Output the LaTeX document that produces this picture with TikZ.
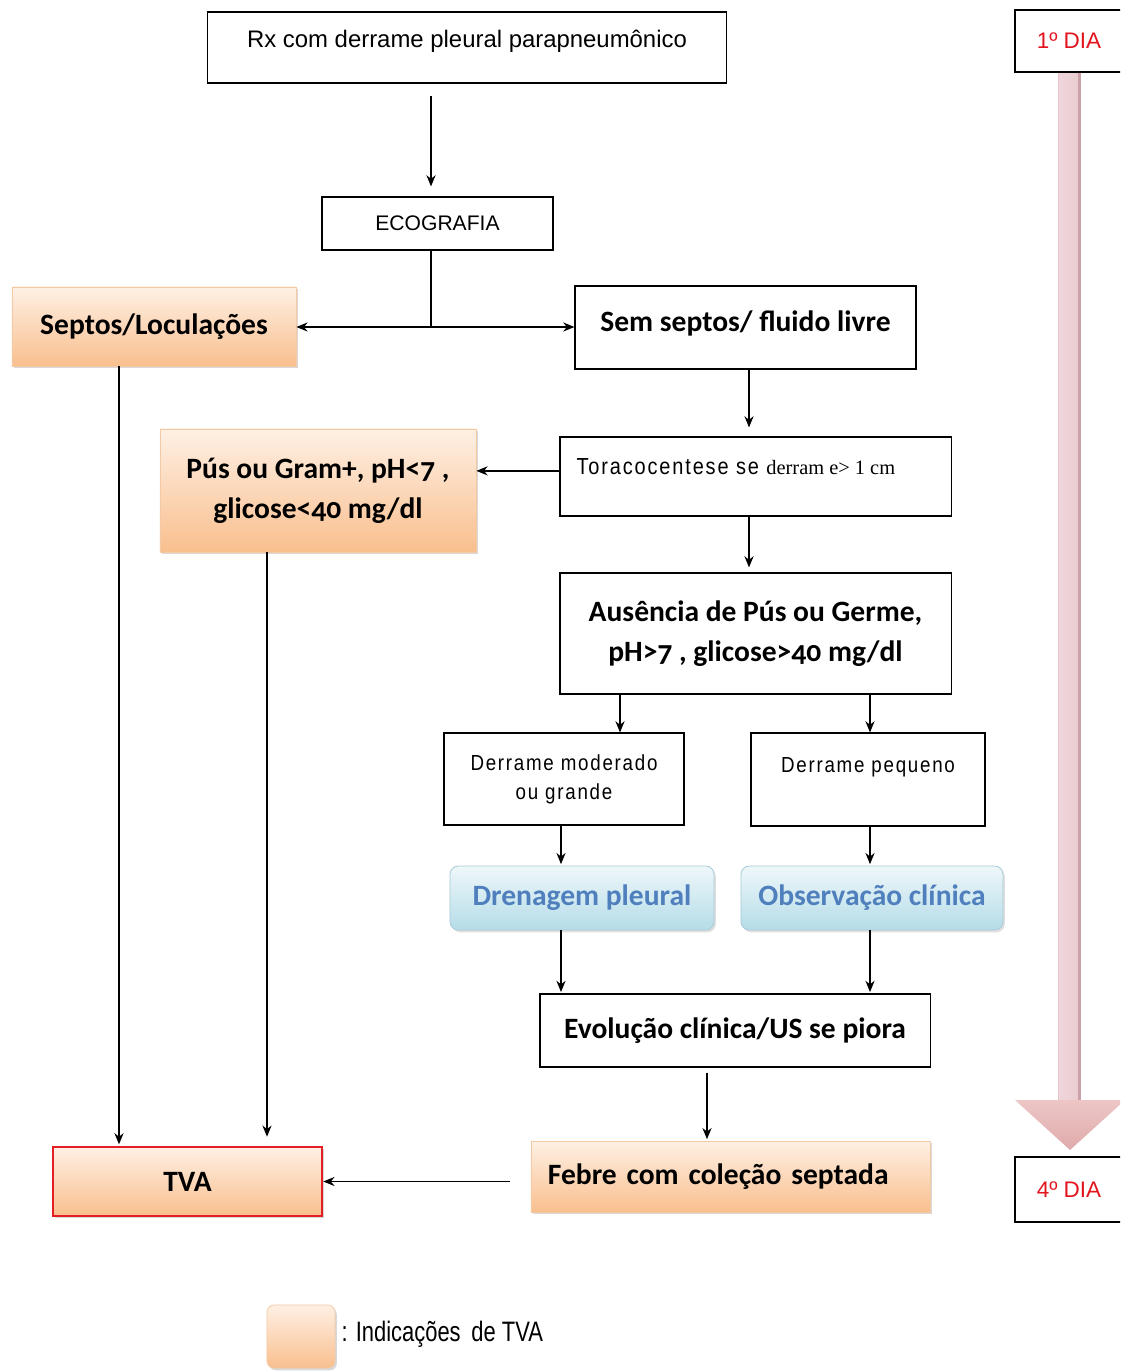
\documentclass[tikz,border=0pt]{standalone}
\usepackage{fontspec}
\setmainfont[Numbers=OldStyle]{Carlito}
\newfontfamily\arialfont{Liberation Sans}
\newfontfamily\narrowfont[FakeStretch=0.86,LetterSpace=8]{Liberation Sans}
\newfontfamily\legendfont[FakeStretch=0.78]{Liberation Sans}
\newfontfamily\timesfont{Liberation Serif}
\usepackage{tikz}
\usetikzlibrary{arrows.meta,shadows}

\definecolor{orTop}{HTML}{FEF0E4}
\definecolor{orBot}{HTML}{F9BF8E}
\definecolor{orEdge}{HTML}{F3C9A6}
\definecolor{blTop}{HTML}{EEF7FA}
\definecolor{blBot}{HTML}{B5DCE8}
\definecolor{blEdge}{HTML}{A9CBDA}
\definecolor{blText}{HTML}{4F80BD}
\definecolor{diaRed}{HTML}{E3141E}
\definecolor{tvaRed}{HTML}{E31E24}
\definecolor{dayL}{HTML}{EFD6DA}
\definecolor{dayM}{HTML}{FCF5F6}
\definecolor{dayR}{HTML}{E9CBCF}
\definecolor{dayEdgeL}{HTML}{E6C5CA}
\definecolor{dayEdgeR}{HTML}{C9A1A7}
\definecolor{dayHeadTop}{HTML}{EDC6C6}
\definecolor{dayHeadBot}{HTML}{E0AAAB}

\begin{document}
\begin{tikzpicture}[->,>={Stealth[length=8pt,width=6.5pt]},x=0.025cm,y=-0.025cm,line width=0.9pt]
\tikzstyle{plainbox}=[draw=black,fill=white,line width=0.8pt,inner sep=0pt]
\tikzstyle{orangebox}=[draw=orEdge,line width=0.5pt,top color=orTop,bottom color=orBot,inner sep=0pt,
                       drop shadow={shadow xshift=1.3pt,shadow yshift=-1.6pt,opacity=0.3}]
\tikzstyle{bluebox}=[draw=blEdge,line width=0.6pt,rounded corners=6pt,top color=blTop,bottom color=blBot,
                     inner sep=0pt,text=blText,
                     drop shadow={shadow xshift=1.3pt,shadow yshift=-1.6pt,opacity=0.25}]
\tikzstyle{diabox}=[plainbox,text=diaRed,font=\arialfont\fontsize{16}{19}\selectfont]
\tikzstyle{thinfont}=[font=\narrowfont\fontsize{15.5}{20.6}\selectfont]
\tikzset{font=\fontsize{21}{28.5}\selectfont\bfseries}

        \clip (0,0) rectangle (1120,1372);
        \fill[-,white] (0,0) rectangle (1120,1372);

        % seta dos dias
        \shade[-,left color=dayL,middle color=dayM,right color=dayR] (1058,72) rectangle (1080,1101);
        \draw[-,dayEdgeL,line width=1.2pt] (1058.5,72) -- (1058.5,1100);
        \draw[-,dayEdgeR,line width=1.6pt] (1079.5,72) -- (1079.5,1100);
        \shade[-,top color=dayHeadTop,bottom color=dayHeadBot] (1015,1100) -- (1125,1100) -- (1070,1150) -- cycle;

        \node[plainbox,minimum width=12.95cm,minimum height=1.775cm,text depth=12pt,
              font=\arialfont\fontsize{17}{20}\selectfont]   (rx)      at (467,47.5)    {Rx com derrame pleural parapneumônico};
        \node[plainbox,minimum width=5.775cm,minimum height=1.325cm,
              font=\arialfont\fontsize{15}{18}\selectfont]   (eco)     at (437.5,223.5) {ECOGRAFIA};
        \node[orangebox,minimum width=7.1cm,minimum height=1.975cm]   (septos)  at (154,326.5)   {Septos/Loculações};
        \node[plainbox,minimum width=8.525cm,minimum height=2.075cm,text depth=9pt]
                                                                       (semsep)  at (745.5,327.5) {Sem septos/ fluido livre};
        \node[plainbox,minimum width=9.775cm,minimum height=1.975cm]  (toraco)  at (755.5,476.5) {};
        \node[anchor=west,inner sep=0pt,font=\narrowfont\fontsize{16.5}{20}\selectfont]
                                                                       (toracotxt) at (576,467)  {Toracocentese se {\timesfont\fontsize{14.5}{17}\selectfont derram e> 1 cm}};
        \node[orangebox,minimum width=7.9cm,minimum height=3.075cm,align=center]
                                                                       (pus)     at (318,490.5)   {Pús ou Gram+, pH<7 ,\\glicose<40 mg/dl};
        \node[plainbox,minimum width=9.775cm,minimum height=3.025cm,align=center]
                                                                       (aus)     at (755.5,633.5) {Ausência de Pús ou Germe,\\pH>7 , glicose>40 mg/dl};
        \node[plainbox,thinfont,minimum width=6cm,minimum height=2.3cm,align=center]
                                                                       (mod)     at (564,779)     {Derrame moderado\\ou grande};
        \node[plainbox,thinfont,minimum width=5.85cm,minimum height=2.325cm,align=center]
                                                                       (peq)     at (868,779.5)   {Derrame pequeno\\~};
        \node[bluebox,minimum width=6.6cm,minimum height=1.6cm]       (dren)    at (582,898)     {Drenagem pleural};
        \node[bluebox,minimum width=6.55cm,minimum height=1.6cm]      (obs)     at (872,898)     {Observação clínica};
        \node[plainbox,minimum width=9.75cm,minimum height=1.825cm]   (evol)    at (735,1030.5)  {Evolução clínica/US se piora};
        \node[orangebox,text width=9.125cm,inner xsep=0.425cm,minimum height=1.775cm,align=left]
                                                                       (febre)   at (730.5,1176.5) {Febre com coleção septada};
        \node[orangebox,draw=tvaRed,line width=1.8pt,minimum width=6.725cm,minimum height=1.725cm]
                                                                       (tva)     at (187.5,1181.5) {TVA};
        \node[diabox,minimum width=2.7cm,minimum height=1.55cm]       (dia1)    at (1069,41)     {1º DIA};
        \node[diabox,minimum width=2.7cm,minimum height=1.625cm]      (dia4)    at (1069,1189.5) {4º DIA};
        \node[orangebox,rounded corners=5pt,minimum width=1.7cm,minimum height=1.575cm]
                                                                       (legbox)  at (301,1336.5)  {};
        \node[anchor=west,inner sep=0pt,font=\legendfont\fontsize{20}{24}\selectfont]
                                                                       (legtxt)  at (341,1334)    {: Indicações\, de TVA};

        % faixas verticais das setas
        \coordinate (laneA) at (119,0);
        \coordinate (laneB) at (267,0);
        \coordinate (laneE) at (431,0);
        \coordinate (laneF) at (749,0);
        \coordinate (laneG) at (620,0);
        \coordinate (laneH) at (870,0);
        \coordinate (laneI) at (561,0);
        \coordinate (laneJ) at (707,0);
        \coordinate (split) at (431,327);

        \draw[-,line width=1.6pt] (eco.south -| laneE) -- (split);

        \path[->]
        (rx.south -| laneE)     edge [shorten <=0.3cm,shorten >=0.25cm]   (eco.north -| laneE)
        (split)                 edge                                      (septos.east |- split)
        (split)                 edge                                      (semsep.west |- split)
        (semsep.south -| laneF) edge [shorten >=0.225cm]                  (toraco.north -| laneF)
        ([yshift=4pt]toraco.west) edge                                    ([yshift=4pt]toraco.west -| pus.east)
        (toraco.south -| laneF) edge [shorten >=0.125cm]                  (aus.north -| laneF)
        (aus.south -| laneG)    edge                                      (mod.north -| laneG)
        (aus.south -| laneH)    edge                                      (peq.north -| laneH)
        (mod.south -| laneI)    edge [shorten >=1pt]                      (dren.north -| laneI)
        (peq.south -| laneH)    edge [shorten >=1pt]                      (obs.north -| laneH)
        (dren.south -| laneI)   edge [shorten >=1pt]                      (evol.north -| laneI)
        (obs.south -| laneH)    edge [shorten >=1pt]                      (evol.north -| laneH)
        (evol.south -| laneJ)   edge [shorten <=0.125cm,shorten >=1pt]    (febre.north -| laneJ)
        (febre.west |- tva.east) edge [shorten <=0.525cm]                 (tva.east)
        (septos.south -| laneA) edge [shorten >=1pt]                      (tva.north -| laneA)
        (pus.south -| laneB)    edge [shorten >=0.225cm]                  (tva.north -| laneB)
        ; %fim path
\end{tikzpicture}
\end{document}
